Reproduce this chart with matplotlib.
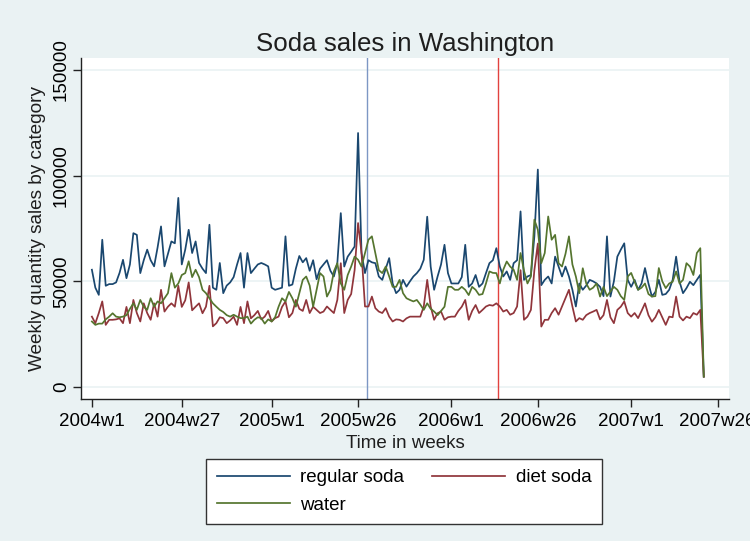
import matplotlib
matplotlib.use("Agg")
import numpy as np
import matplotlib.pyplot as plt

# weekly sales, index 0 = 2004w1
regular_soda = [
    55500, 47000, 43600, 69700, 47900, 48700, 48700, 49500, 54000, 60200,
    51500, 58000, 72800, 72000, 53900, 60000, 65000, 60000, 57100, 66000,
    76000, 57100, 63000, 68900, 68000, 89500, 58000, 65000, 74400, 63400,
    68900, 58700, 56000, 53900, 76800, 47000, 46000, 58700, 44400, 48000,
    49500, 52000, 58000, 63400, 47000, 63400, 53900, 56000, 58000, 58700,
    58000, 57100, 47000, 46000, 46500, 47000, 71300, 47900, 48500, 56000,
    62000, 59000, 61000, 55000, 60000, 51000, 56000, 58000, 60000, 55000,
    52300, 58600, 82300, 57000, 61700, 64000, 66500, 120200, 63400, 53900,
    60000, 59000, 58600, 52300, 50700, 56000, 61000, 49000, 44400, 46000,
    50700, 47500, 50000, 52300, 53900, 56000, 60200, 80600, 57000, 46000,
    52300, 58000, 67300, 53900, 49000, 49000, 49000, 52000, 67300, 47400,
    49000, 53000, 47400, 49000, 53900, 58600, 60000, 65700, 57000, 52300,
    54700, 50700, 58600, 60000, 83100, 50700, 52300, 53000, 71300, 102900,
    48200, 50700, 52300, 49000, 61700, 57000, 52300, 57000, 52300, 46000,
    38100, 49000, 46000, 48000, 50700, 50000, 49000, 47400, 43000, 71300,
    42800, 50000, 61700, 65000, 68000, 50700, 47400, 50700, 46000, 49000,
    56300, 49000, 42800, 45000, 50700, 43600, 44000, 46000, 50700, 61700,
    49800, 44400, 46800, 49800, 48200, 50700, 53100, 4900,
]
diet_soda = [
    33300, 30200, 35000, 40500, 29400, 31800, 31800, 32000, 32500, 30200,
    37900, 30200, 41200, 35000, 31000, 39600, 35000, 31800, 39600, 33300,
    46000, 35700, 38000, 39600, 38000, 47900, 37900, 41000, 49500, 36300,
    38000, 39600, 34900, 38000, 47900, 28700, 30200, 33000, 32600, 30200,
    31500, 33300, 29400, 37900, 30200, 40500, 32500, 34000, 36000, 32000,
    33300, 36000, 31000, 32600, 33300, 37900, 40500, 33000, 35000, 41200,
    37000, 36000, 41200, 35000, 38000, 36500, 35000, 35700, 38100, 36500,
    35000, 41200, 58600, 35000, 41200, 44000, 55300, 77600, 63400, 38100,
    38100, 42800, 37300, 35700, 35000, 37300, 33300, 31000, 32000, 31800,
    31000, 32500, 33300, 33300, 33300, 33300, 38100, 50700, 38100, 31800,
    34900, 35700, 31800, 33000, 33300, 33300, 36000, 38000, 41200, 31800,
    36000, 38800, 35000, 36500, 38100, 38800, 38500, 39600, 38100, 35700,
    36500, 34200, 35000, 38100, 55300, 31800, 33300, 36500, 55300, 67900,
    28600, 31800, 31800, 35000, 37300, 34200, 38100, 42000, 46000, 38100,
    31000, 32600, 31800, 34000, 35000, 35700, 36500, 32000, 34000, 41200,
    33000, 30200, 36500, 38000, 40500, 35000, 33300, 35000, 32600, 36000,
    39600, 34000, 30900, 33000, 36500, 33000, 29400, 33300, 33000, 42800,
    33300, 31500, 33300, 32600, 35000, 34200, 36500, 4900,
]
water = [
    31000, 29400, 30000, 30000, 32000, 33300, 34900, 33300, 33000, 33300,
    34000, 37000, 39600, 36500, 41200, 38000, 36500, 42000, 38000, 40500,
    39600, 42000, 44400, 53900, 47000, 49000, 53000, 53900, 59500, 52000,
    55500, 52000, 46000, 44400, 42000, 39600, 38000, 36500, 35500, 34000,
    33300, 34200, 33300, 32600, 32600, 33300, 30000, 31800, 33000, 32600,
    30000, 32000, 31000, 33000, 38000, 42000, 40500, 45000, 42000, 38000,
    44400, 50700, 52300, 48000, 38000, 46000, 53900, 52300, 42800, 46000,
    54700, 58600, 49000, 46000, 53000, 57000, 61700, 60200, 57000, 63400,
    69700, 71300, 63400, 55300, 53900, 57000, 52300, 47400, 47400, 50700,
    44400, 42000, 41200, 40500, 41200, 39000, 36500, 39600, 37000, 35700,
    34000, 36000, 38000, 47400, 47400, 46000, 46000, 47400, 46000, 43500,
    47400, 46000, 43600, 44000, 49000, 54700, 54000, 53900, 49000, 55500,
    59400, 57000, 55500, 50700, 63400, 55000, 49000, 52300, 79200, 74400,
    58600, 63400, 80700, 69700, 72000, 58600, 57000, 63000, 71300, 58000,
    52300, 44400, 56200, 49000, 46000, 47000, 49000, 42800, 47400, 43000,
    45200, 47400, 46000, 43000, 41200, 52300, 54000, 49800, 46000, 47000,
    49000, 44000, 42800, 43000, 56300, 50000, 46800, 49000, 49800, 54700,
    49000, 50700, 58600, 57000, 53000, 63400, 65700, 4900,
]
series_names = ["regular soda", "diet soda", "water"]
tick_weeks = [0, 26, 52, 77, 104, 129, 156, 181]
tick_labels = ["2004w1", "2004w27", "2005w1", "2005w26",
               "2006w1", "2006w26", "2007w1", "2007w26"]
y_ticks = [0, 50000, 100000, 150000]
event_weeks = [79.6, 117.6]

plt.rcParams['font.family'] = ['Liberation Sans', 'DejaVu Sans']

bg = '#eaf2f3'
colors = ['#1a476f', '#90353b', '#55752f']
event_colors = ['#7d97c4', '#e2423f']

fig = plt.figure(figsize=(7.5, 5.41), dpi=100, facecolor=bg)
ax = fig.add_axes([81 / 750, 1 - 399 / 541, 648 / 750, 341 / 541])
ax.set_facecolor('white')

weeks = np.arange(len(regular_soda))
for xv, c in zip(event_weeks, event_colors):
    ax.axvline(xv, color=c, lw=1.0, zorder=1)

lines = []
for vals, c, name in zip([regular_soda, diet_soda, water], colors, series_names):
    ln, = ax.plot(weeks, vals, color=c, lw=1.25, label=name, zorder=2)
    lines.append(ln)

ax.set_xlim(-3.15, 184.3)
ax.set_ylim(-5680, 155700)
ax.set_yticks(y_ticks)
ax.set_yticklabels([str(v) for v in y_ticks], rotation=90, va='center')
ax.set_xticks(tick_weeks)
ax.set_xticklabels(tick_labels)
ax.tick_params(axis='both', labelsize=13.5, length=6, width=1, color='#222222')
ax.tick_params(axis='x', pad=4)
ax.tick_params(axis='y', pad=2)
ax.yaxis.grid(True, color=bg, lw=1.2)
ax.set_axisbelow(True)
for s in ['top', 'right']:
    ax.spines[s].set_visible(False)
for s in ['left', 'bottom']:
    ax.spines[s].set_color('#222222')
    ax.spines[s].set_linewidth(1)

fig.text(405 / 750, 1 - 51 / 541, "Soda sales in Washington", fontsize=18.6,
         ha='center', va='baseline', color='#1e1e1e')
fig.text(405 / 750, 1 - 448 / 541, "Time in weeks", fontsize=13.5,
         ha='center', va='baseline', color='#1e1e1e')
fig.text(38 / 750, 1 - 228.5 / 541, "Weekly quantity sales by category",
         fontsize=13.7, rotation=90, ha='center', va='center', color='#1e1e1e')

# column-wise fill: regular/water in col 1, diet in col 2
order = [0, 2, 1]
leg = fig.legend([lines[i] for i in order], [series_names[i] for i in order],
                 loc='upper center', bbox_to_anchor=(404 / 750, 1 - 459 / 541),
                 ncol=2, fontsize=13.5, frameon=True, fancybox=False,
                 framealpha=1, facecolor='white', edgecolor='#333333',
                 handlelength=3.9, handletextpad=0.55, columnspacing=1.5,
                 borderpad=0.55, labelspacing=0.55, borderaxespad=0)
leg.get_frame().set_linewidth(1)

fig.savefig("out.png", dpi=100, facecolor=bg)
